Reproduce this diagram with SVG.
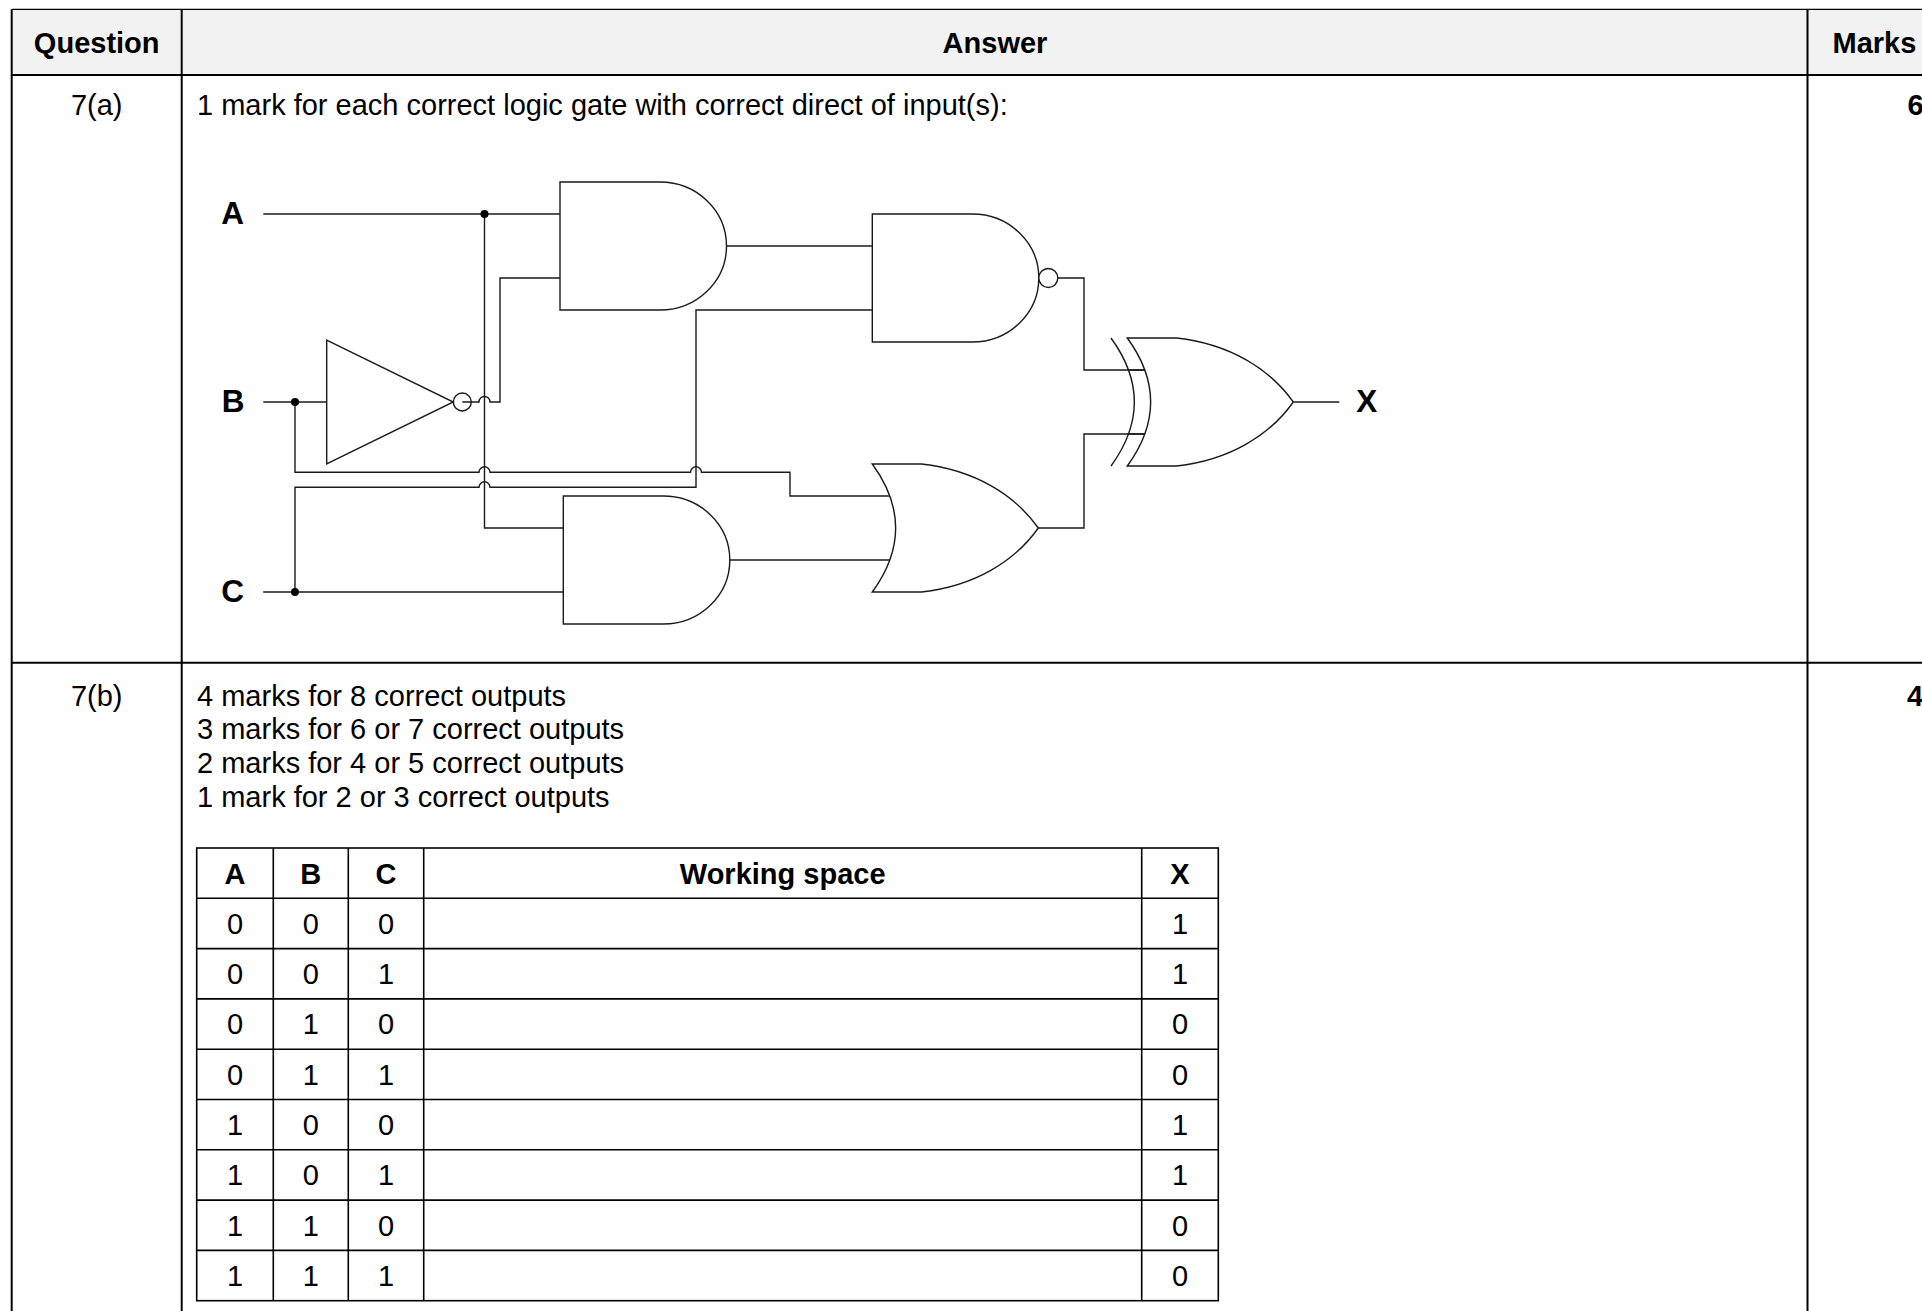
<svg xmlns="http://www.w3.org/2000/svg" width="1922" height="1311" viewBox="0 0 1922 1311">
<style>
.t{font-family:"Liberation Sans",Arial,sans-serif;font-size:29px;fill:#000}
.b{font-weight:bold}
.m{text-anchor:middle}
.lbl{font-family:"Liberation Sans",Arial,sans-serif;font-size:31.5px;font-weight:bold;fill:#000;text-anchor:middle}
.grid{stroke:#000;stroke-width:2;fill:none}
.tt{stroke:#000;stroke-width:1.6;fill:none}
.w{stroke:#1a1a1a;stroke-width:1.4;fill:none}
.g{stroke:#1a1a1a;stroke-width:1.4;fill:#fff}
.dot{fill:#000}
</style>
<defs>
<path id="andShape" d="M0,0 H100 A66.5,64 0 0 1 100,128 H0 Z"/>
<path id="orShape" d="M0,0 H49.4 C102.7,6 142.7,31 166,64 C142.7,97 102.7,122 49.4,128 H0 Q46.7,64 0,0 Z"/>
</defs>
<rect x="0" y="0" width="1922" height="1311" fill="#fff"/>
<g id="table">
<rect x="11.7" y="9.3" width="1915" height="65.7" fill="#f2f2f2"/>
<line x1="11.7" y1="9.3" x2="1922" y2="9.3" stroke="#000" stroke-width="1.2"/>
<line class="grid" x1="11.7" y1="9.3" x2="11.7" y2="1311"/>
<line class="grid" x1="181.7" y1="9.3" x2="181.7" y2="1311"/>
<line class="grid" x1="1807.5" y1="9.3" x2="1807.5" y2="1311"/>
<line class="grid" x1="11.7" y1="75" x2="1922" y2="75"/>
<line class="grid" x1="11.7" y1="662.7" x2="1922" y2="662.7"/>
<text class="t b m" x="96.7" y="53.3">Question</text>
<text class="t b m" x="995" y="53.3">Answer</text>
<text class="t b" x="1832.5" y="53.3">Marks</text>
<text class="t m" x="96.7" y="115">7(a)</text>
<text class="t" x="197" y="115">1 mark for each correct logic gate with correct direct of input(s):</text>
<text class="t b" x="1907.5" y="115">6</text>
<text class="t m" x="96.7" y="705.7">7(b)</text>
<text class="t" x="197" y="705.7">4 marks for 8 correct outputs</text>
<text class="t" x="197" y="739.3">3 marks for 6 or 7 correct outputs</text>
<text class="t" x="197" y="773">2 marks for 4 or 5 correct outputs</text>
<text class="t" x="197" y="806.7">1 mark for 2 or 3 correct outputs</text>
<text class="t b" x="1907" y="705.7">4</text>
</g>
<g id="truth-table">
<rect class="tt" x="196.7" y="848" width="1021.6" height="452.7"/>
<path class="tt" d="M273.3,848 V1300.7 M348.3,848 V1300.7 M423.7,848 V1300.7 M1141.7,848 V1300.7 M196.7,898.3 H1218.3 M196.7,948.6 H1218.3 M196.7,998.9 H1218.3 M196.7,1049.2 H1218.3 M196.7,1099.5 H1218.3 M196.7,1149.8 H1218.3 M196.7,1200.1 H1218.3 M196.7,1250.4 H1218.3"/>
<text class="t b m" x="235" y="883.5">A</text>
<text class="t b m" x="310.8" y="883.5">B</text>
<text class="t b m" x="386" y="883.5">C</text>
<text class="t b m" x="782.7" y="883.5">Working space</text>
<text class="t b m" x="1180" y="883.5">X</text>
<g class="t m">
<text x="235" y="933.8">0</text><text x="310.8" y="933.8">0</text><text x="386" y="933.8">0</text><text x="1180" y="933.8">1</text>
<text x="235" y="984.1">0</text><text x="310.8" y="984.1">0</text><text x="386" y="984.1">1</text><text x="1180" y="984.1">1</text>
<text x="235" y="1034.4">0</text><text x="310.8" y="1034.4">1</text><text x="386" y="1034.4">0</text><text x="1180" y="1034.4">0</text>
<text x="235" y="1084.7">0</text><text x="310.8" y="1084.7">1</text><text x="386" y="1084.7">1</text><text x="1180" y="1084.7">0</text>
<text x="235" y="1135">1</text><text x="310.8" y="1135">0</text><text x="386" y="1135">0</text><text x="1180" y="1135">1</text>
<text x="235" y="1185.3">1</text><text x="310.8" y="1185.3">0</text><text x="386" y="1185.3">1</text><text x="1180" y="1185.3">1</text>
<text x="235" y="1235.6">1</text><text x="310.8" y="1235.6">1</text><text x="386" y="1235.6">0</text><text x="1180" y="1235.6">0</text>
<text x="235" y="1285.9">1</text><text x="310.8" y="1285.9">1</text><text x="386" y="1285.9">1</text><text x="1180" y="1285.9">0</text>
</g>
</g>
<g id="connectors">
<path class="w" d="M263.3,214 H560"/>
<path class="w" d="M484.5,214 V528 H563.3"/>
<path class="w" d="M263.3,402 H326.7"/>
<path class="w" d="M462.3,402 H479 A5.5,5.5 0 0 1 490,402 H500 V278 H560"/>
<path class="w" d="M295,402 V472.3 H479 A5.5,5.5 0 0 1 490,472.3 H690.5 A5.5,5.5 0 0 1 701.5,472.3 H790 V496 H889.8"/>
<path class="w" d="M263.3,592 H563.3"/>
<path class="w" d="M295,592 V487.3 H479 A5.5,5.5 0 0 1 490,487.3 H696 V310 H872.3"/>
<path class="w" d="M726.5,246 H872.3"/>
<path class="w" d="M729.8,560 H889.8"/>
<path class="w" d="M1057.8,278 H1084 V370 H1145"/>
<path class="w" d="M1038.3,528 H1084 V434 H1145"/>
<path class="w" d="M1293.3,402 H1339.3"/>
<circle class="dot" cx="484.5" cy="214" r="4"/>
<circle class="dot" cx="295" cy="402" r="4"/>
<circle class="dot" cx="295" cy="592" r="4"/>
</g>
<g id="label-A"><text class="lbl" x="232.5" y="224">A</text></g>
<g id="label-B"><text class="lbl" x="233" y="412">B</text></g>
<g id="label-C"><text class="lbl" x="232.5" y="602">C</text></g>
<g id="label-X"><text class="lbl" x="1366.7" y="412">X</text></g>
<g id="not-gate">
<polygon class="g" points="326.7,340 326.7,464 453.3,402"/>
<circle class="w" cx="462.3" cy="402" r="9"/>
</g>
<g id="and-gate-1"><use href="#andShape" class="g" transform="translate(560,182)"/></g>
<g id="and-gate-2"><use href="#andShape" class="g" transform="translate(563.3,496)"/></g>
<g id="nand-gate">
<use href="#andShape" class="g" transform="translate(872.3,214)"/>
<circle class="g" cx="1048.3" cy="278" r="9.5"/>
</g>
<g id="or-gate"><use href="#orShape" class="g" transform="translate(872.3,464)"/></g>
<g id="xor-gate">
<use href="#orShape" class="g" transform="translate(1127.3,338)"/>
<path class="w" d="M1111,338 Q1157.7,402 1111,466"/>
<path class="w" d="M1127.3,370 H1145 M1127.3,434 H1145"/>
</g>
</svg>
